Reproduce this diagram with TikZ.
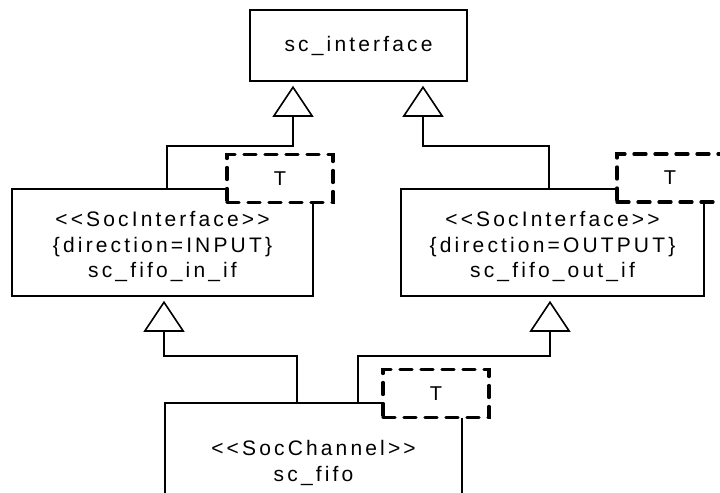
\documentclass[tikz,border=0pt]{standalone}
\usepackage{fontspec}
\setmainfont{Liberation Sans}[LetterSpace=15,Ligatures={NoCommon,TeXOff}]
\usetikzlibrary{arrows.meta}
\tikzset{
  umlbox/.style={draw, line width=1.6bp, fill=white, inner sep=0pt, align=center},
  tbox/.style={draw, line width=3.3bp, dash pattern=on 12bp off 9bp, line cap=round, fill=white,
    minimum width=106bp, minimum height=48bp, inner sep=0pt, font=\fontsize{20bp}{22bp}\selectfont},
  gen/.style={line width=1.6bp, -{Triangle[open, length=31bp, width=41bp]}, shorten >=4bp},
  lbl/.style={align=center, inner sep=0pt, font=\fontsize{21bp}{25.5bp}\selectfont},
  chlbl/.style={lbl, font=\fontsize{21bp}{26.7bp}\selectfont}
}
\begin{document}
\begin{tikzpicture}[x=1bp,y=-1bp]
\useasboundingbox (0,0) rectangle (720,493);
\node[umlbox, lbl, minimum width=217bp, minimum height=71bp] (iface) at (358.5,45.5) {sc\_interface};
\node[umlbox, minimum width=301bp, minimum height=107bp] (inif) at (162.5,242.5) {};
\node[lbl] (inifl) at (162.5,246.5)
  {<<SocInterface>>\\\{direction=INPUT\}\\sc\_fifo\_in\_if};
\node[umlbox, minimum width=303bp, minimum height=107bp] (outif) at (552.5,242.5) {};
\node[lbl] (outifl) at (552.5,246.5)
  {<<SocInterface>>\\\{direction=OUTPUT\}\\sc\_fifo\_out\_if};
\node[umlbox, minimum width=297bp, minimum height=157bp] (ch) at (313.5,481.5) {};
\node[chlbl] (chl) at (313.5,463) {<<SocChannel>>\\sc\_fifo};
\node[tbox] (tin) at (280,178.5) {T};
\node[tbox] (tout) at (670,178) {T};
\node[tbox] (tch) at (436,393.5) {T};
\draw[gen] (167,0 |- inif.north) |- (293,146) -- (293,0 |- iface.south);
\draw[gen] (549,0 |- outif.north) |- (423,146) -- (423,0 |- iface.south);
\draw[gen] (297,0 |- ch.north) |- (164,356) -- (164,0 |- inif.south);
\draw[gen] (358,0 |- ch.north) |- (550,356) -- (550,0 |- outif.south);
\end{tikzpicture}
\end{document}
